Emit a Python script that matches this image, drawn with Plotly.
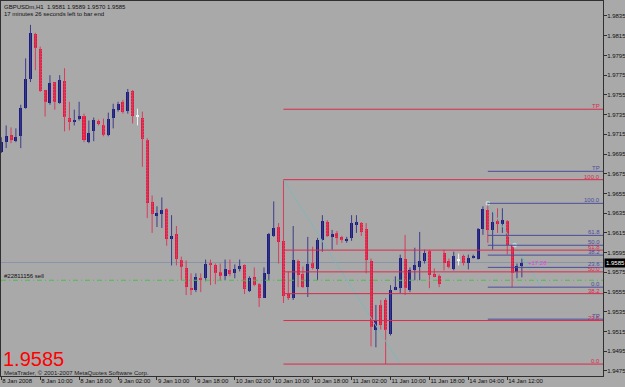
import plotly.graph_objects as go

# ---------------- data (GBPUSDm, H1) ----------------
opens = [1.9697, 1.9707, 1.9714, 1.9708, 1.9713, 1.9742, 1.9771, 1.9817, 1.9802, 1.9760,
         1.9747, 1.9768, 1.9747, 1.9769, 1.9732, 1.9727, 1.9731, 1.9734, 1.9707, 1.9718,
         1.9729, 1.9724, 1.9714, 1.9732, 1.9740, 1.9748, 1.9739, 1.9759, 1.9733, 1.9732,
         1.9709, 1.9646, 1.9633, 1.9634, 1.9639, 1.9609, 1.9614, 1.9588, 1.9579, 1.9559,
         1.9557, 1.9569, 1.9569, 1.9585, 1.9582, 1.9575, 1.9571, 1.9577, 1.9574, 1.9579,
         1.9582, 1.9556, 1.9570, 1.9563, 1.9549, 1.9573, 1.9612, 1.9621, 1.9607, 1.9553,
         1.9549, 1.9587, 1.9573, 1.9560, 1.9585, 1.9578, 1.9608, 1.9626, 1.9611, 1.9615,
         1.9611, 1.9607, 1.9610, 1.9624, 1.9625, 1.9619, 1.9587, 1.9517, 1.9542, 1.9547,
         1.9513, 1.9558, 1.9559, 1.9589, 1.9557, 1.9577, 1.9580, 1.9587, 1.9597, 1.9573,
         1.9571, 1.9595, 1.9587, 1.9578, 1.9587, 1.9592, 1.9584, 1.9590, 1.9589, 1.9619,
         1.9638, 1.9618, 1.9627, 1.9624, 1.9627, 1.9603, 1.9575, 1.9581]
highs = [1.9712, 1.9724, 1.9722, 1.9721, 1.9745, 1.9792, 1.9826, 1.9818, 1.9804, 1.9760,
         1.9775, 1.9768, 1.9775, 1.9782, 1.9748, 1.9740, 1.9748, 1.9736, 1.9729, 1.9732,
         1.9730, 1.9731, 1.9737, 1.9746, 1.9748, 1.9750, 1.9761, 1.9760, 1.9741, 1.9738,
         1.9711, 1.9653, 1.9642, 1.9651, 1.9640, 1.9633, 1.9622, 1.9591, 1.9587, 1.9574,
         1.9574, 1.9574, 1.9588, 1.9588, 1.9584, 1.9584, 1.9588, 1.9588, 1.9583, 1.9588,
         1.9583, 1.9571, 1.9580, 1.9564, 1.9580, 1.9615, 1.9647, 1.9625, 1.9669, 1.9576,
         1.9622, 1.9588, 1.9581, 1.9611, 1.9601, 1.9610, 1.9633, 1.9628, 1.9618, 1.9617,
         1.9612, 1.9611, 1.9633, 1.9633, 1.9626, 1.9625, 1.9589, 1.9542, 1.9547, 1.9549,
         1.9562, 1.9571, 1.9593, 1.9613, 1.9580, 1.9600, 1.9616, 1.9598, 1.9598, 1.9579,
         1.9573, 1.9598, 1.9589, 1.9596, 1.9594, 1.9593, 1.9593, 1.9593, 1.9620, 1.9642,
         1.9645, 1.9636, 1.9640, 1.9640, 1.9628, 1.9603, 1.9584, 1.9589]
lows = [1.9696, 1.9701, 1.9706, 1.9707, 1.9701, 1.9741, 1.9768, 1.9780, 1.9758, 1.9733,
        1.9745, 1.9740, 1.9746, 1.9718, 1.9719, 1.9724, 1.9729, 1.9707, 1.9706, 1.9708,
        1.9724, 1.9713, 1.9713, 1.9721, 1.9738, 1.9736, 1.9736, 1.9726, 1.9724, 1.9682,
        1.9630, 1.9615, 1.9621, 1.9620, 1.9602, 1.9582, 1.9582, 1.9567, 1.9552, 1.9552,
        1.9555, 1.9555, 1.9566, 1.9562, 1.9563, 1.9567, 1.9567, 1.9571, 1.9569, 1.9576,
        1.9553, 1.9555, 1.9561, 1.9540, 1.9549, 1.9567, 1.9611, 1.9584, 1.9544, 1.9547,
        1.9547, 1.9560, 1.9559, 1.9550, 1.9578, 1.9567, 1.9596, 1.9611, 1.9598, 1.9603,
        1.9605, 1.9605, 1.9607, 1.9615, 1.9612, 1.9574, 1.9500, 1.9499, 1.9517, 1.9482,
        1.9511, 1.9557, 1.9554, 1.9552, 1.9555, 1.9567, 1.9567, 1.9584, 1.9559, 1.9570,
        1.9560, 1.9577, 1.9579, 1.9577, 1.9582, 1.9582, 1.9578, 1.9589, 1.9588, 1.9613,
        1.9605, 1.9598, 1.9615, 1.9615, 1.9593, 1.9560, 1.9569, 1.9570]
closes = [1.9707, 1.9713, 1.9709, 1.9712, 1.9742, 1.9771, 1.9818, 1.9803, 1.9759, 1.9748,
          1.9767, 1.9748, 1.9770, 1.9733, 1.9728, 1.9730, 1.9734, 1.9709, 1.9716, 1.9730,
          1.9725, 1.9714, 1.9731, 1.9741, 1.9746, 1.9738, 1.9758, 1.9734, 1.9733, 1.9710,
          1.9645, 1.9634, 1.9635, 1.9638, 1.9609, 1.9612, 1.9589, 1.9580, 1.9560, 1.9558,
          1.9570, 1.9568, 1.9583, 1.9583, 1.9574, 1.9571, 1.9578, 1.9573, 1.9578, 1.9581,
          1.9558, 1.9569, 1.9562, 1.9549, 1.9574, 1.9614, 1.9620, 1.9606, 1.9551, 1.9549,
          1.9588, 1.9572, 1.9560, 1.9583, 1.9579, 1.9608, 1.9627, 1.9612, 1.9614, 1.9610,
          1.9608, 1.9609, 1.9625, 1.9626, 1.9616, 1.9588, 1.9520, 1.9527, 1.9522, 1.9517,
          1.9557, 1.9560, 1.9590, 1.9559, 1.9577, 1.9582, 1.9587, 1.9595, 1.9572, 1.9571,
          1.9563, 1.9585, 1.9580, 1.9592, 1.9587, 1.9585, 1.9590, 1.9592, 1.9619, 1.9639,
          1.9618, 1.9626, 1.9625, 1.9628, 1.9603, 1.9574, 1.9581, 1.9585]

x_tick_bars = [0, 8, 16, 24, 32, 40, 48, 56, 64, 72, 80, 88, 96, 104]
x_tick_labels = ["8 Jan 2008", "8 Jan 10:00", "8 Jan 18:00", "9 Jan 02:00", "9 Jan 10:00",
                 "9 Jan 18:00", "10 Jan 02:00", "10 Jan 10:00", "10 Jan 18:00", "11 Jan 02:00",
                 "11 Jan 10:00", "11 Jan 18:00", "14 Jan 04:00", "14 Jan 12:00"]
y_tick_values = [1.9475, 1.9495, 1.9515, 1.9535, 1.9555, 1.9575, 1.9595, 1.9615, 1.9635,
                 1.9655, 1.9675, 1.9695, 1.9715, 1.9735, 1.9755, 1.9775, 1.9795, 1.9815, 1.9835]

# Fibonacci objects (anchor bar index, anchor price)
red_fib_bars = [58, 82]
red_fib_prices = [1.9669, 1.9482]
blue_fib_bars = [100, 111]
blue_fib_prices = [1.9645, 1.9560]
fib_ratios = [1.382, 1.0, 0.618, 0.5, 0.382, 0.236, 0.0, -0.382]
fib_texts = ["TP", "100.0", "61.8", "50.0", "38.2", "23.6", "0.0", "TP"]

bid_price = 1.9585
order_price = 1.9567
order_label = "#22811156 sell"
order_profit = "+17.28"
header_1 = "GBPUSDm,H1  1.9581 1.9589 1.9570 1.9585"
header_2 = "17 minutes 26 seconds left to bar end"
copyright_text = "MetaTrader, © 2001-2007 MetaQuotes Software Corp."

# ---------------- styling ----------------
BG = "#a9a9a9"
BULL = "#1c1c7e"
BULL_WICK = "#3c3c8c"
BEAR = "#e0163e"
BEAR_WICK = "#d83c5c"
DOJI = "#f0f0f0"
RED_FIB = "#dc2a4c"
BLUE_FIB = "#4c4c9c"
DIAG = "#7fb6b8"
X_MIN, X_MAX = -0.06, 123.68
Y_MIN, Y_MAX = 1.94699, 1.98502
BODY_W = 0.62
MIN_BODY = 0.00008
FS = 6
FONT = "Liberation Sans, Arial"

fig = go.Figure()

n = len(opens)
groups = {"bull": [], "bear": [], "doji": []}
for i in range(n):
    if closes[i] > opens[i]:
        groups["bull"].append(i)
    elif closes[i] < opens[i]:
        groups["bear"].append(i)
    else:
        groups["doji"].append(i)

wick_colors = {"bull": BULL_WICK, "bear": BEAR_WICK, "doji": DOJI}
for key, idxs in groups.items():
    xs, ys = [], []
    for i in idxs:
        xs += [i, i, None]
        ys += [lows[i], highs[i], None]
    fig.add_trace(go.Scatter(x=xs, y=ys, mode="lines", line=dict(color=wick_colors[key], width=1),
                             hoverinfo="skip"))

body_colors = {"bull": BULL, "bear": BEAR, "doji": DOJI}
for key, idxs in groups.items():
    base = [min(opens[i], closes[i]) for i in idxs]
    height = [max(abs(closes[i] - opens[i]), MIN_BODY) for i in idxs]
    marker = dict(color=body_colors[key], line=dict(width=0))
    if key == "bear":
        marker["pattern"] = dict(shape=".", fgcolor="#ff6a86", size=3, solidity=0.25)
    fig.add_trace(go.Bar(x=idxs, y=height, base=base, width=BODY_W, marker=marker, hoverinfo="skip"))

# bid line and order line
fig.add_shape(type="line", xref="paper", x0=0, x1=1, y0=bid_price, y1=bid_price,
              line=dict(color="#8696a6", width=1), layer="below")
fig.add_shape(type="line", xref="paper", x0=0, x1=1, y0=order_price, y1=order_price,
              line=dict(color="#4cbf4c", width=1, dash="5px,3px,1px,3px"))


def fib(bars, prices, color):
    hi, lo = prices
    for r, t in zip(fib_ratios, fib_texts):
        lvl = lo + r * (hi - lo)
        if not (Y_MIN < lvl < Y_MAX):
            continue
        fig.add_shape(type="line", x0=bars[0], x1=X_MAX, y0=lvl, y1=lvl,
                      line=dict(color=color, width=1))
        fig.add_annotation(x=1, xref="paper", y=lvl, text=t, showarrow=False,
                           xanchor="right", yanchor="bottom", xshift=-2, yshift=-1,
                           font=dict(color=color, size=FS), borderpad=0)
    fig.add_trace(go.Scatter(x=bars, y=prices, mode="lines", line=dict(color=DIAG, width=1),
                             hoverinfo="skip"))


fib(red_fib_bars, red_fib_prices, RED_FIB)
fib(blue_fib_bars, blue_fib_prices, BLUE_FIB)
fig.add_trace(go.Scatter(x=[blue_fib_bars[0], sum(blue_fib_bars) / 2],
                         y=[blue_fib_prices[0], sum(blue_fib_prices) / 2],
                         mode="markers", marker=dict(symbol="square-open", size=3, color="#c8e4e6",
                                                     line=dict(width=1)),
                         hoverinfo="skip"))

# texts
fig.add_annotation(x=0, xref="paper", y=1, yref="paper", text=header_1, showarrow=False,
                   xanchor="left", yanchor="top", xshift=2, yshift=-2, borderpad=0,
                   font=dict(size=FS, color="#101010"))
fig.add_annotation(x=0, xref="paper", y=1, yref="paper", text=header_2, showarrow=False,
                   xanchor="left", yanchor="top", xshift=2, yshift=-9, borderpad=0,
                   font=dict(size=FS, color="#101010"))
fig.add_annotation(x=0, xref="paper", y=order_price, text=order_label, showarrow=False,
                   xanchor="left", yanchor="bottom", xshift=2, yshift=0, borderpad=0,
                   font=dict(size=FS, color="#101010"))
fig.add_annotation(x=n, y=bid_price, text=order_profit, showarrow=False,
                   xanchor="left", yanchor="middle", xshift=0, borderpad=0,
                   font=dict(size=FS, color="#e23ce2"))
fig.add_annotation(x=0, xref="paper", y=0, yref="paper", text=f"{closes[-1]:.4f}", showarrow=False,
                   xanchor="left", yanchor="bottom", xshift=1, yshift=5, borderpad=0,
                   font=dict(size=20, color="#ff0000", family=FONT))
fig.add_annotation(x=0, xref="paper", y=0, yref="paper", text=copyright_text, showarrow=False,
                   xanchor="left", yanchor="bottom", xshift=2, yshift=-1, borderpad=0,
                   font=dict(size=FS, color="#202020"))
fig.add_annotation(x=1, xref="paper", y=bid_price, text=f"{bid_price:.4f}", showarrow=False,
                   xanchor="left", yanchor="middle", xshift=1, borderpad=1, bgcolor="#000000",
                   font=dict(size=FS, color="#ffffff"))

fig.update_layout(
    width=625, height=387,
    margin=dict(l=1, r=22, t=1, b=11, autoexpand=False),
    paper_bgcolor=BG, plot_bgcolor=BG,
    showlegend=False, barmode="overlay", bargap=0,
    font=dict(family=FONT, size=FS, color="#101010"),
    xaxis=dict(range=[X_MIN, X_MAX], showgrid=False, zeroline=False, showline=True, mirror=True,
               linecolor="#303030", linewidth=1, tickmode="array", tickvals=x_tick_bars,
               ticktext=x_tick_labels, ticks="outside", ticklen=3, tickcolor="#303030",
               tickangle=0, automargin=False, ticklabelstandoff=-1,
               ticklabelposition="outside right", tickfont=dict(size=FS, color="#101010")),
    yaxis=dict(range=[Y_MIN, Y_MAX], side="right", showgrid=False, zeroline=False, showline=True,
               mirror=True, linecolor="#303030", linewidth=1, tickmode="array", automargin=False,
               tickvals=y_tick_values, ticktext=[f"{v:.4f}" for v in y_tick_values],
               ticklabelstandoff=-1,
               ticks="outside", ticklen=3, tickcolor="#303030", tickfont=dict(size=FS, color="#101010")),
)

fig.write_html("out.html")
